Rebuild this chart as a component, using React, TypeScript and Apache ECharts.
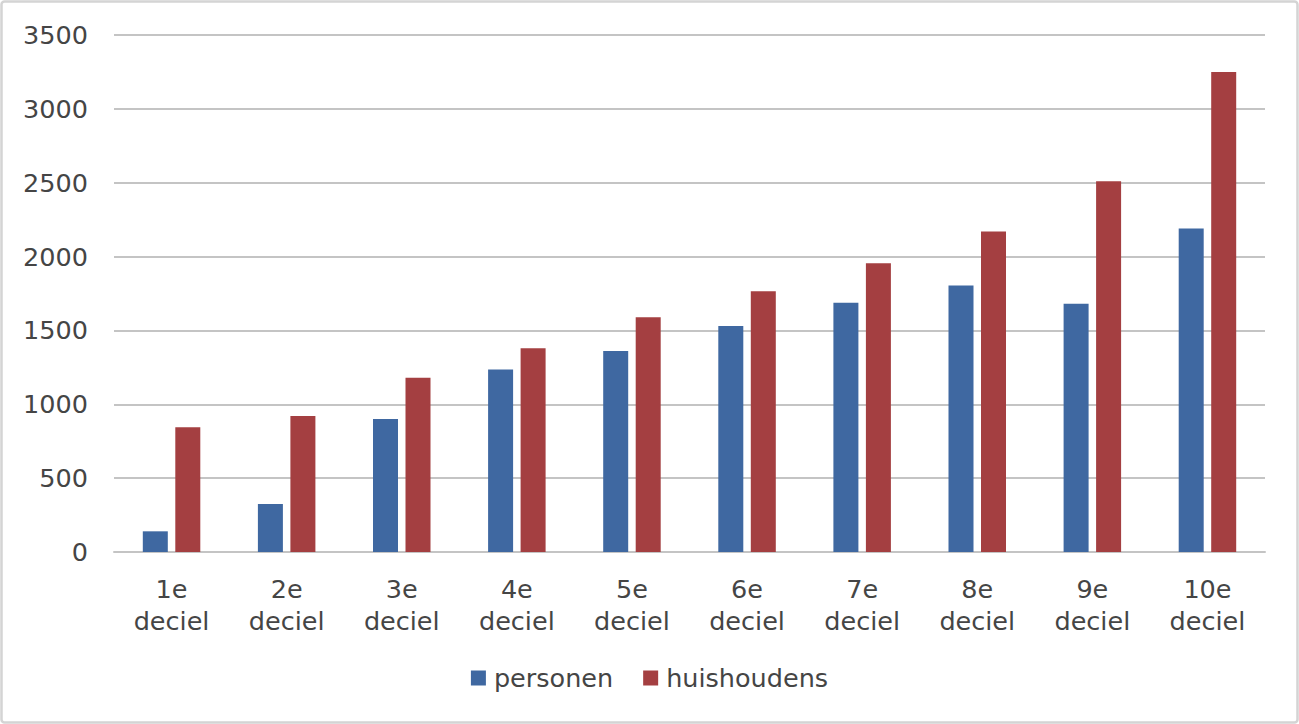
import React, { useEffect, useRef } from "react";
import * as echarts from "echarts";

const categories = [
  "1e\ndeciel",
  "2e\ndeciel",
  "3e\ndeciel",
  "4e\ndeciel",
  "5e\ndeciel",
  "6e\ndeciel",
  "7e\ndeciel",
  "8e\ndeciel",
  "9e\ndeciel",
  "10e\ndeciel",
];
const personen = [140, 325, 900, 1235, 1360, 1530, 1688, 1805, 1680, 2190];
const huishoudens = [845, 920, 1180, 1380, 1590, 1765, 1955, 2170, 2510, 3250];

const FONT = "DejaVu Sans";
const TEXT = "#454545";

const App = () => {
  const chartRef = useRef<HTMLDivElement>(null);

  useEffect(() => {
    if (!chartRef.current) return;
    const chart = echarts.init(chartRef.current, null, { renderer: "svg" });
    chart.setOption({
      animation: false,
      backgroundColor: "#fff",
      textStyle: { fontFamily: FONT },
      graphic: [
        {
          type: "rect",
          shape: { x: 1.5, y: 1.5, width: 1296, height: 721, r: 3 },
          style: { fill: "none", stroke: "#d4d4d4", lineWidth: 2.5 },
          silent: true,
        },
      ],
      grid: { left: 114, right: 34, top: 35, bottom: 172 },
      legend: {
        bottom: 28,
        left: "center",
        itemWidth: 15,
        itemHeight: 15,
        itemGap: 30,
        icon: "rect",
        textStyle: { fontSize: 25.5, color: TEXT, fontFamily: FONT, padding: [0, 0, 0, 3] },
        data: ["personen", "huishoudens"],
      },
      xAxis: {
        type: "category",
        data: categories,
        axisLine: { lineStyle: { color: "#c4c4c4", width: 2 } },
        axisTick: { show: false },
        axisLabel: {
          fontSize: 25.5,
          color: TEXT,
          lineHeight: 32,
          margin: 21,
          interval: 0,
          fontFamily: FONT,
        },
      },
      yAxis: {
        type: "value",
        min: 0,
        max: 3500,
        interval: 500,
        axisLine: { show: false },
        axisTick: { show: false },
        axisLabel: {
          fontSize: 25.5,
          color: TEXT,
          margin: 26,
          fontFamily: FONT,
          formatter: (v: number) => String(v),
        },
        splitLine: { lineStyle: { color: "#c4c4c4", width: 2 } },
      },
      series: [
        {
          name: "personen",
          type: "bar",
          data: personen,
          barWidth: 25,
          barGap: "30%",
          itemStyle: { color: "#3F68A1" },
        },
        {
          name: "huishoudens",
          type: "bar",
          data: huishoudens,
          barWidth: 25,
          itemStyle: { color: "#A43F41" },
        },
      ],
    });
    return () => {
      chart.dispose();
    };
  }, []);

  return (
    <div
      ref={chartRef}
      style={{ position: "absolute", left: 0, top: 0, width: "1299px", height: "724px" }}
    />
  );
};

export default App;
